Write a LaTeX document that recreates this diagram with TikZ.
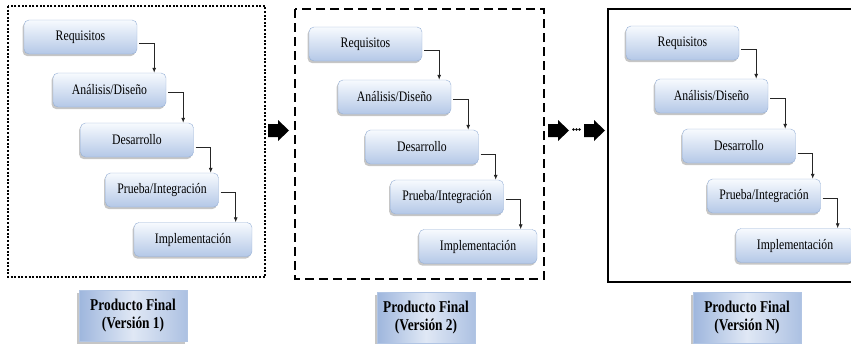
\documentclass[tikz,border=0pt]{standalone}
\usepackage{fontspec}
\setmainfont{Liberation Serif}[FakeStretch=0.81]
\usetikzlibrary{arrows.meta,shadows}

\definecolor{stageTop}{RGB}{247,250,254}
\definecolor{stageBottom}{RGB}{180,200,231}
\definecolor{stageEdge}{RGB}{150,176,214}
\definecolor{prodDark}{RGB}{158,182,221}
\definecolor{prodLight}{RGB}{224,232,245}

\tikzset{
  stage/.style={draw=stageEdge, rounded corners=5pt, top color=stageTop, bottom color=stageBottom,
    minimum width=113pt, minimum height=34pt, inner sep=0pt, text=black,
    font=\fontsize{14.5}{16}\selectfont,
    drop shadow={shadow xshift=-1.5pt, shadow yshift=-2.2pt, opacity=0.45}},
  product/.style={draw=prodDark!80, left color=prodDark, right color=prodDark!85, middle color=prodLight,
    minimum width=108pt, minimum height=51pt, inner sep=0pt, align=center, text=black,
    font=\fontsize{16.5}{18}\selectfont\bfseries,
    drop shadow={shadow xshift=-2pt, shadow yshift=-2pt, opacity=0.45}},
  flow/.style={draw=black!85, line width=0.8pt, -{Latex[length=5pt,width=4pt]}},
  bigarrow/.pic={\fill (0,-6.5) -- (10,-6.5) -- (10,-10.5) -- (21,0) -- (10,10.5) -- (10,6.5) -- (0,6.5) -- cycle;}
}

\begin{document}
\begin{tikzpicture}[x=1pt, y=-1pt]
	\useasboundingbox (0,0) rectangle (851,343);

	% frames of the three iterations
	\draw[line width=2pt, dash pattern=on 2pt off 1.6pt] (8,6) rectangle (265,277);
	\draw[line width=2.5pt, dash pattern=on 9pt off 5pt] (295,9) rectangle (544,279);
	\draw[line width=2.5pt] (608,9) rectangle (862,282);

	% cascade inside each frame
	\foreach \p/\dx/\dy in {1/0/0, 2/285/7, 3/602/6} {
		\begin{scope}[shift={(\dx,\dy)}]
			\node[stage] (req\p) at (80.5,37) {Requisitos};
			\node[stage] (ana\p) at (109.5,90) {Análisis/Diseño};
			\node[stage] (des\p) at (137,140) {Desarrollo};
			\node[stage] (pru\p) at (162,190) {Prueba/Integración};
			\node[stage, minimum width=118pt] (imp\p) at (193,239.5) {Implementación};

			\draw[flow] ([xshift=2pt,yshift=-6pt]req\p.east) -| ([xshift=17pt]req\p.east |- ana\p.north);
			\draw[flow] ([xshift=2pt,yshift=-2pt]ana\p.east) -| ([xshift=17pt]ana\p.east |- des\p.north);
			\draw[flow] ([xshift=2pt,yshift=-7pt]des\p.east) -| ([xshift=17pt]des\p.east |- pru\p.north);
			\draw[flow] ([xshift=2pt,yshift=-2pt]pru\p.east) -| ([xshift=17pt]pru\p.east |- imp\p.north);
		\end{scope}
	}

	% block arrows between iterations
	\pic at (268,130.5) {bigarrow};
	\pic at (548,130.5) {bigarrow};
	\pic at (584,130.5) {bigarrow};
	\foreach \d in {573.5,576.5,579.5} \fill (\d,129.5) circle (1.4);

	% final products
	\node[product] (ver1) at (133,316) {Producto Final\\(Versión 1)};
	\node[product, minimum width=98pt] (ver2) at (426,318) {Producto Final\\(Versión 2)};
	\node[product] (verN) at (747,318) {Producto Final\\(Versión N)};
\end{tikzpicture}
\end{document}
